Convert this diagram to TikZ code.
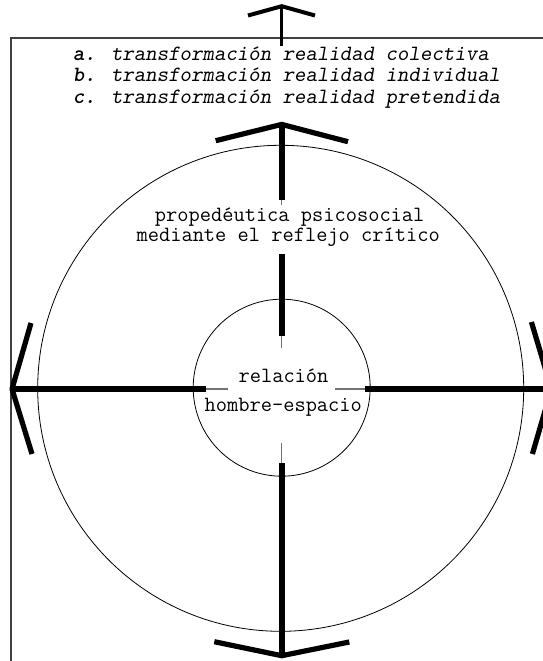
\documentclass[tikz,border=0pt]{standalone}
\usepackage{fontspec}
\newfontfamily\slmono{lmmonoslant10-regular}[Extension=.otf]
\newfontfamily\bslmono{lmmonolt10-boldoblique}[Extension=.otf]
\begin{document}
\begin{tikzpicture}[x=1pt,y=-1pt,
  txt/.style={font=\ttfamily\fontsize{21.8}{22}\selectfont, inner sep=0pt, anchor=base},
  legtxt/.style={txt, anchor=base west, font=\slmono\fontsize{21.8}{22}\selectfont},
  shaft/.style={line width=5.8pt, line cap=butt},
  wing/.style={line width=5.2pt, line cap=butt, line join=miter},
  swing/.style={line width=5.2pt, line cap=butt, line join=round},
  hair/.style={line width=1.1pt, black!55},
  ring/.style={draw, circle, line width=0.8pt, inner sep=0pt},
  frameline/.style={line width=1.2pt, black!75}
]
\useasboundingbox (0,0) rectangle (542,661);
% frame
\coordinate (fb) at (11,670);
\coordinate (ftl) at (11,38);
\coordinate (fr) at (550,38);
\draw[frameline] (fb) -- (ftl) -- (fr);
% circles
\node[ring, minimum size=486pt] (outer) at (280.7,388.3) {};
\node[ring, minimum size=177pt] (inner) at (281.7,387.7) {};
% legend
\node[legtxt] (la) at (72.7,60.5) {{\bslmono a.} transformación realidad colectiva};
\node[legtxt] (lb) at (72.7,81.5) {{\bslmono b.} transformación realidad individual};
\node[legtxt] (lc) at (72.7,103) {{\bslmono c.} transformación realidad pretendida};
% texts
\node[txt] (p1) at (289.7,221.7) {propedéutica psicosocial};
\node[txt] (p2) at (288.2,241.7) {mediante el reflejo crítico};
\node[txt] (rel) at (283.5,382) {relación};
\node[txt] (hom) at (283.3,411) {hombre-espacio};
% top small arrow
\coordinate (t0) at (281.7,46.5);
\coordinate (t1) at (281.7,6.2);
\coordinate (t1l) at (248,15.5);
\coordinate (t1r) at (315,15.5);
\draw[line width=3.5pt] (t0) -- (t1);
\draw[line width=4pt, line join=miter] (t1l) -- (t1) -- (t1r);
% top inner arrow
\coordinate (ua) at (281.7,124.4);
\coordinate (ual) at (215.7,140.7);
\coordinate (uar) at (348,141.7);
\coordinate (us1) at (281.7,205);
\coordinate (us2) at (281.7,200);
\coordinate (us3) at (281.7,254);
\coordinate (us4) at (281.7,336);
\coordinate (us5) at (281.7,348);
\draw[hair] (us1) -- (ua);
\draw[hair] (us5) -- (us3);
\draw[shaft] (us2) -- (ua);
\draw[shaft] (us4) -- (us3);
\draw[wing] (ual) -- (ua) -- (uar);
% bottom arrow
\coordinate (da) at (281.7,655.7);
\coordinate (dal) at (214.3,641.7);
\coordinate (dar) at (349.3,642);
\coordinate (ds1) at (281.7,443);
\coordinate (ds2) at (281.7,463);
\draw[hair] (ds1) -- (da);
\draw[shaft] (ds2) -- (da);
\draw[wing] (dal) -- (da) -- (dar);
% left arrow
\coordinate (la0) at (12,389);
\coordinate (lal) at (31,323);
\coordinate (lar) at (32,454);
\coordinate (ls1) at (228,389);
\coordinate (ls2) at (205.7,389);
\draw[hair] (ls1) -- (la0);
\draw[shaft] (ls2) -- (la0);
\draw[swing] (lal) -- (la0) -- (lar);
% right arrow
\coordinate (ra0) at (551.4,389);
\coordinate (ral) at (531.4,322);
\coordinate (rar) at (532.4,454);
\coordinate (rs1) at (335,389);
\coordinate (rs2) at (365,389);
\draw[hair] (rs1) -- (ra0);
\draw[shaft] (rs2) -- (ra0);
\draw[swing] (ral) -- (ra0) -- (rar);
\end{tikzpicture}
\end{document}
